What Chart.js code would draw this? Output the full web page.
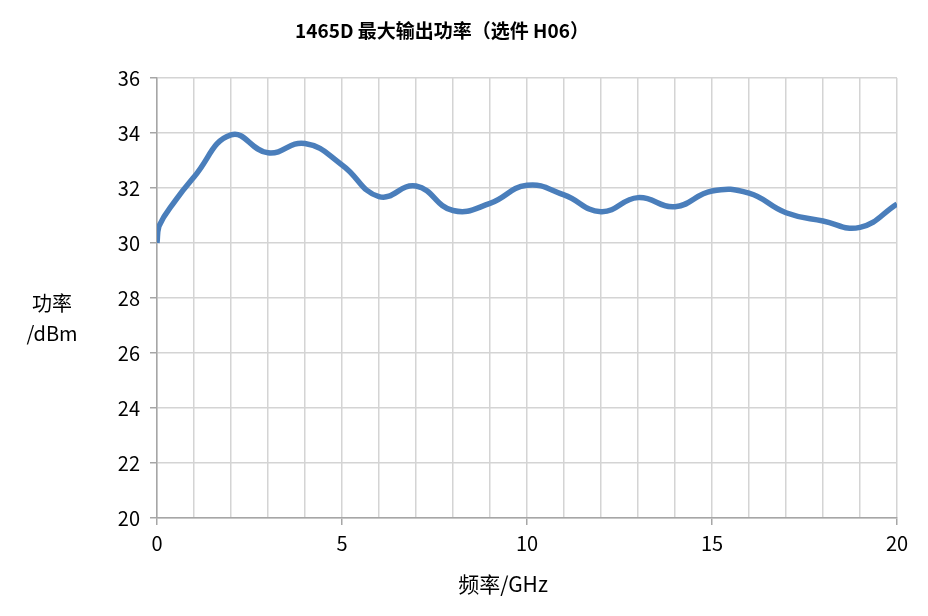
<!DOCTYPE html>
<html>
<head>
<meta charset="utf-8">
<script src="https://cdn.jsdelivr.net/npm/chart.js@4/dist/chart.umd.min.js"></script>
<style>
  html, body { margin: 0; padding: 0; background: #fff; }
  #wrap { width: 928px; height: 616px; position: relative; }
</style>
</head>
<body>
<div id="wrap"><canvas id="powerChart" width="928" height="616"></canvas></div>
<script>
// 1465D max output power, option H06
const chartTitle = '1465D 最大输出功率（选件 H06）';
const xTitle = '频率/GHz';
const yTitleLines = ['功率', '/dBm'];

const freqGHz  = [0, 0.05, 0.5, 1, 2, 3, 4, 5, 6, 7, 8, 9, 10, 11, 12, 13, 14, 15, 16, 17, 18, 19, 20];
const powerDbm = [30.0, 30.6, 31.55, 32.4, 33.93, 33.28, 33.62, 32.84, 31.69, 32.07, 31.18, 31.44,
                  32.1, 31.75, 31.14, 31.65, 31.32, 31.89, 31.81, 31.1, 30.8, 30.57, 31.42];

const xMin = 0, xMax = 20, xStep = 1, xLabelEvery = 5;
const yMin = 20, yMax = 36, yStep = 2;

const FONT = '"Noto Sans CJK SC", "Noto Sans", sans-serif';
const GRID = '#d4d4d4';
const AXIS = '#a6a6a6';

// titles drawn as plain text (horizontal y title, off-centre main title)
const textPlugin = {
  id: 'textPlugin',
  afterDraw(chart) {
    const ctx = chart.ctx;
    ctx.save();
    ctx.fillStyle = '#000';
    ctx.textAlign = 'center';
    ctx.textBaseline = 'middle';
    ctx.font = 'bold 19px ' + FONT;
    ctx.fillText(chartTitle, 442, 31);
    ctx.font = '21px ' + FONT;
    ctx.fillText(xTitle, 503, 584);
    ctx.font = '20px ' + FONT;
    yTitleLines.forEach((t, i) => ctx.fillText(t, 52, 303 + i * 30));
    ctx.restore();
  }
};

const ctx = document.getElementById('powerChart').getContext('2d');
new Chart(ctx, {
  type: 'line',
  data: {
    datasets: [{
      data: freqGHz.map((f, i) => ({ x: f, y: powerDbm[i] })),
      borderColor: '#4a7ebb',
      borderWidth: 5.5,
      pointRadius: 0,
      tension: 0.45,
      fill: false,
    }]
  },
  options: {
    responsive: false,
    animation: false,
    layout: { padding: { top: 78, right: 31, left: 0, bottom: 0 } },
    plugins: { legend: { display: false }, tooltip: { enabled: false }, title: { display: false } },
    scales: {
      x: {
        type: 'linear',
        min: xMin, max: xMax,
        afterFit: (s) => { s.height = 98; },
        border: { color: AXIS, width: 1.5 },
        grid: {
          color: GRID,
          lineWidth: 1.5,
          tickLength: 7,
          tickColor: (c) => (c.tick && c.tick.value % xLabelEvery === 0) ? AXIS : 'rgba(0,0,0,0)',
        },
        ticks: {
          stepSize: xStep,
          autoSkip: false,
          maxRotation: 0,
          padding: 6,
          color: '#000',
          font: { family: FONT, size: 20 },
          callback: (v) => (v % xLabelEvery === 0 ? String(v) : ''),
        },
      },
      y: {
        min: yMin, max: yMax,
        afterFit: (s) => { s.width = 157; },
        border: { color: AXIS, width: 1.5 },
        grid: { color: GRID, lineWidth: 1.5, tickLength: 7, tickColor: AXIS },
        ticks: {
          stepSize: yStep,
          padding: 10,
          color: '#000',
          font: { family: FONT, size: 20 },
        },
      },
    },
  },
  plugins: [textPlugin],
});
</script>
</body>
</html>
